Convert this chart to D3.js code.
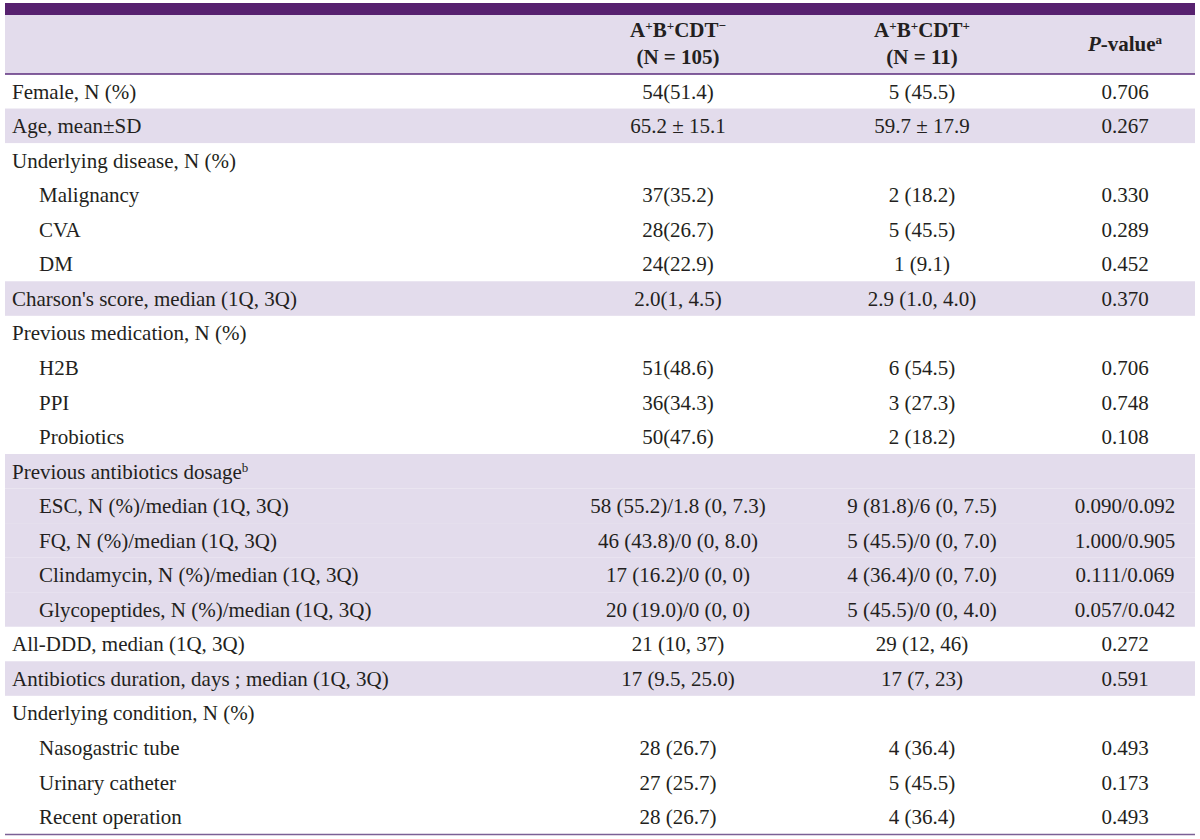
<!DOCTYPE html>
<html lang="en">
<head>
    <meta charset="UTF-8">
    <title>Clinical characteristics table</title>
    <script src="https://d3js.org/d3.v7.min.js"></script>
    <style>
        html, body {
            margin: 0;
            padding: 0;
            background: #fff;
        }

        text {
            font-family: "Liberation Serif", "DejaVu Serif", serif;
            font-size: 21px;
            fill: #231f20;
        }

        .head text {
            font-weight: bold;
        }
    </style>
</head>
<body>
    <div id="table"></div>

    <script>
        // row labels, indent level (0 = group, 1 = sub item) and footnote mark
        const rowLabels = [
            "Female, N (%)",
            "Age, mean±SD",
            "Underlying disease, N (%)",
            "Malignancy",
            "CVA",
            "DM",
            "Charson's score, median (1Q, 3Q)",
            "Previous medication, N (%)",
            "H2B",
            "PPI",
            "Probiotics",
            "Previous antibiotics dosage",
            "ESC, N (%)/median (1Q, 3Q)",
            "FQ, N (%)/median (1Q, 3Q)",
            "Clindamycin, N (%)/median (1Q, 3Q)",
            "Glycopeptides, N (%)/median (1Q, 3Q)",
            "All-DDD, median (1Q, 3Q)",
            "Antibiotics duration, days ; median (1Q, 3Q)",
            "Underlying condition, N (%)",
            "Nasogastric tube",
            "Urinary catheter",
            "Recent operation"
        ];
        const rowIndent = [0, 0, 0, 1, 1, 1, 0, 0, 1, 1, 1, 0, 1, 1, 1, 1, 0, 0, 0, 1, 1, 1];
        const rowNote = ["", "", "", "", "", "", "", "", "", "", "", "b", "", "", "", "", "", "", "", "", "", ""];

        const cdtNeg = [
            "54(51.4)", "65.2 ± 15.1", "", "37(35.2)", "28(26.7)", "24(22.9)", "2.0(1, 4.5)",
            "", "51(48.6)", "36(34.3)", "50(47.6)", "",
            "58 (55.2)/1.8 (0, 7.3)", "46 (43.8)/0 (0, 8.0)", "17 (16.2)/0 (0, 0)", "20 (19.0)/0 (0, 0)",
            "21 (10, 37)", "17 (9.5, 25.0)", "", "28 (26.7)", "27 (25.7)", "28 (26.7)"
        ];
        const cdtPos = [
            "5 (45.5)", "59.7 ± 17.9", "", "2 (18.2)", "5 (45.5)", "1 (9.1)", "2.9 (1.0, 4.0)",
            "", "6 (54.5)", "3 (27.3)", "2 (18.2)", "",
            "9 (81.8)/6 (0, 7.5)", "5 (45.5)/0 (0, 7.0)", "4 (36.4)/0 (0, 7.0)", "5 (45.5)/0 (0, 4.0)",
            "29 (12, 46)", "17 (7, 23)", "", "4 (36.4)", "5 (45.5)", "4 (36.4)"
        ];
        const pValues = [
            "0.706", "0.267", "", "0.330", "0.289", "0.452", "0.370",
            "", "0.706", "0.748", "0.108", "",
            "0.090/0.092", "1.000/0.905", "0.111/0.069", "0.057/0.042",
            "0.272", "0.591", "", "0.493", "0.173", "0.493"
        ];
        const shadedRows = [1, 6, 11, 12, 13, 14, 15, 17];

        const width = 1200, height = 839;
        const left = 5, right = 1195;
        const headTop = 15, headBottom = 74, bodyBottom = 834;

        const svg = d3.select("#table")
            .append("svg")
            .attr("width", width)
            .attr("height", height);

        const y = d3.scaleBand()
            .domain(d3.range(rowLabels.length))
            .range([headBottom, bodyBottom]);

        const colX = { label: 12, indent: 39, neg: 678, pos: 922, p: 1125 };

        // header background and rules
        svg.append("rect")
            .attr("x", left).attr("y", headTop)
            .attr("width", right - left).attr("height", headBottom - headTop)
            .attr("fill", "#e3dcec");

        svg.append("g").selectAll("rect")
            .data(shadedRows)
            .enter().append("rect")
            .attr("x", left)
            .attr("y", d => y(d))
            .attr("width", right - left)
            .attr("height", y.bandwidth())
            .attr("fill", "#e3dcec");

        svg.append("rect")
            .attr("x", left).attr("y", 3)
            .attr("width", right - left).attr("height", headTop - 3)
            .attr("fill", "#57216f");

        svg.append("line")
            .attr("x1", left).attr("x2", right)
            .attr("y1", headBottom).attr("y2", headBottom)
            .attr("stroke", "#5b2c7c").attr("stroke-width", 1.5);

        svg.append("line")
            .attr("x1", left).attr("x2", right)
            .attr("y1", bodyBottom + 0.5).attr("y2", bodyBottom + 0.5)
            .attr("stroke", "#7b6096").attr("stroke-width", 1.5);

        // header text
        const head = svg.append("g").attr("class", "head");

        function groupHead(x, sign, n) {
            const t = head.append("text")
                .attr("x", x).attr("y", 37)
                .attr("text-anchor", "middle");
            t.append("tspan").text("A");
            t.append("tspan").attr("baseline-shift", "super").attr("font-size", "13px").text("+");
            t.append("tspan").text("B");
            t.append("tspan").attr("baseline-shift", "super").attr("font-size", "13px").text("+");
            t.append("tspan").text("CDT");
            t.append("tspan").attr("baseline-shift", "super").attr("font-size", "13px").text(sign);

            head.append("text")
                .attr("x", x).attr("y", 64)
                .attr("text-anchor", "middle")
                .text(n);
        }
        groupHead(colX.neg, "−", "(N = 105)");
        groupHead(colX.pos, "+", "(N = 11)");

        const pv = head.append("text")
            .attr("x", colX.p).attr("y", 51)
            .attr("text-anchor", "middle");
        pv.append("tspan").attr("font-style", "italic").text("P");
        pv.append("tspan").text("-value");
        pv.append("tspan").attr("baseline-shift", "super").attr("font-size", "13px").text("a");

        // body
        const rows = svg.append("g").selectAll("g")
            .data(rowLabels.map((d, i) => ({ i, label: d })))
            .enter().append("g")
            .attr("transform", d => `translate(0,${y(d.i) + y.bandwidth() / 2})`);

        const lab = rows.append("text")
            .attr("x", d => rowIndent[d.i] ? colX.indent : colX.label)
            .attr("dy", "0.35em");
        lab.append("tspan").text(d => d.label);
        lab.filter(d => rowNote[d.i])
            .append("tspan")
            .attr("baseline-shift", "super")
            .attr("font-size", "13px")
            .text(d => rowNote[d.i]);

        rows.append("text")
            .attr("x", colX.neg)
            .attr("dy", "0.35em")
            .attr("text-anchor", "middle")
            .text(d => cdtNeg[d.i]);

        rows.append("text")
            .attr("x", colX.pos)
            .attr("dy", "0.35em")
            .attr("text-anchor", "middle")
            .text(d => cdtPos[d.i]);

        rows.append("text")
            .attr("x", colX.p)
            .attr("dy", "0.35em")
            .attr("text-anchor", "middle")
            .text(d => pValues[d.i]);
    </script>
</body>
</html>
